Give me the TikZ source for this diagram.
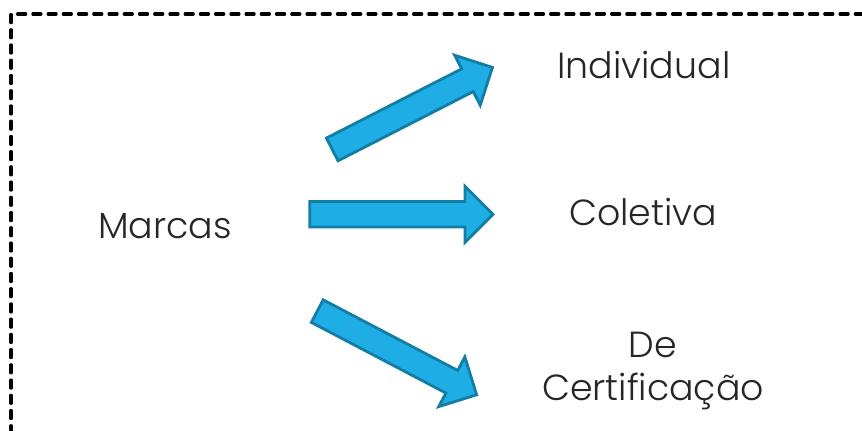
\documentclass[tikz,border=0pt]{standalone}
\usepackage{fontspec}
\setmainfont{Poppins Light}
\usetikzlibrary{shapes.arrows, positioning}
\definecolor{arrowfill}{RGB}{30,173,228}
\definecolor{arrowline}{RGB}{18,126,166}
\tikzset{
    label/.style={
        font=\fontsize{31}{37}\selectfont, text=black!85, align=center
    },
    bigarrow/.style={
        single arrow, draw=arrowline, fill=arrowfill, line width=2.4pt,
        minimum width=1.64cm, minimum height=5.4cm, inner xsep=0pt, inner ysep=0.34cm,
        single arrow head extend=0.46cm, single arrow tip angle=90
    },
    frame/.style={
        draw=black, line width=2.6pt, dash pattern=on 7pt off 6pt, line cap=round
    }
}
\begin{document}
\begin{tikzpicture}

\useasboundingbox (0,0) rectangle (25.86,12.93);
\clip (0,0) rectangle (25.86,12.93);

% Dashed frame
\draw[frame] (0.33,-1) -- (0.33,12.51) -- (27,12.51);

% Labels
\node[label] (marcas) at (4.95,6.15) {Marcas};
\node[label] (individual) at (19.32,10.98) {Individual};
\node[label] (coletiva) at (19.29,6.57) {Coletiva};
\node[label] (certif) at (19.59,1.80) {De\\Certificação};

% Arrows
\node[bigarrow, rotate=27.1] (upArrow) at (12.20,9.59) {};
\node[bigarrow, minimum height=5.5cm] (midArrow) at (11.85,6.50) {};
\node[bigarrow, rotate=-27.7] (lowArrow) at (11.74,2.43) {};

\end{tikzpicture}
\end{document}
